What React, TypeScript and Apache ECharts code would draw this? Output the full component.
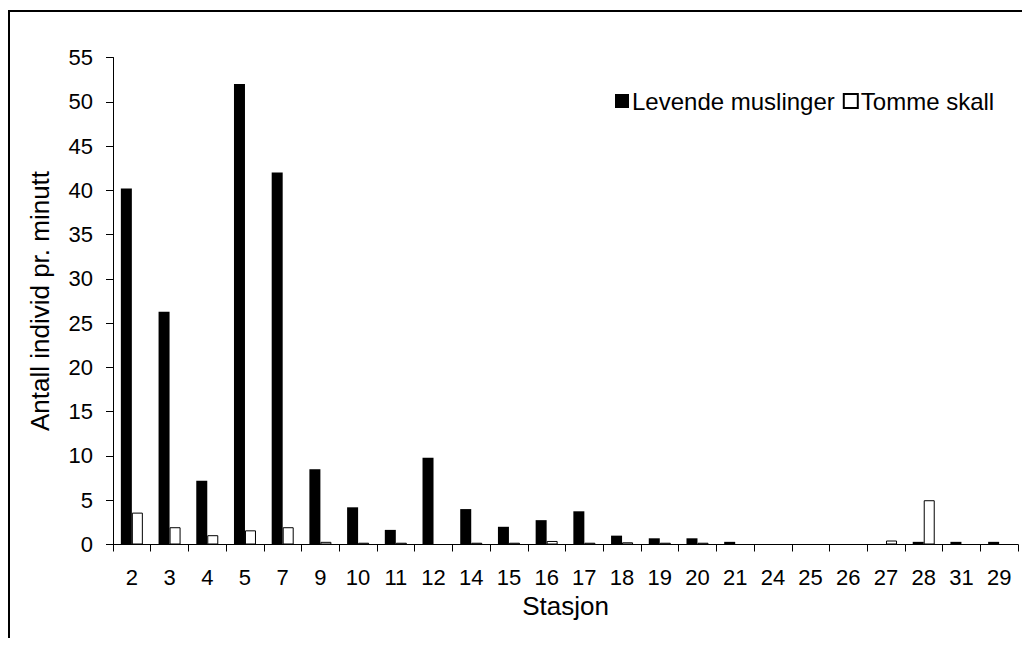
import React, { useEffect, useRef } from "react";
import * as echarts from "echarts";

const categories = ["2", "3", "4", "5", "7", "9", "10", "11", "12", "14", "15", "16", "17", "18", "19", "20", "21", "24", "25", "26", "27", "28", "31", "29"];
const levende = [40.2, 26.3, 7.2, 52, 42, 8.5, 4.2, 1.65, 9.8, 4.0, 2.0, 2.75, 3.75, 1.0, 0.7, 0.7, 0.3, 0, 0, 0, 0, 0.3, 0.3, 0.3];
const tomme = [3.6, 1.95, 1.05, 1.6, 1.95, 0.3, 0.2, 0.2, 0, 0.2, 0.2, 0.4, 0.2, 0.25, 0.2, 0.2, 0, 0, 0, 0, 0.45, 5.0, 0, 0];
const yTicks = { min: 0, max: 55, interval: 5 };

const FONT = "Liberation Sans";
const FS = 22;
const FS_LEGEND = 24;
const FS_NAME = 26;

export default function App() {
  const ref = useRef<HTMLDivElement>(null);
  useEffect(() => {
    if (!ref.current) return;
    const chart = echarts.init(ref.current, null, { renderer: "svg" });
    chart.setOption({
      animation: false,
      backgroundColor: "#fff",
      textStyle: { fontFamily: FONT, color: "#000" },
      graphic: [
        { type: "line", shape: { x1: 0, y1: 3, x2: 1030, y2: 3 }, style: { stroke: "#000", lineWidth: 2 } },
        { type: "line", shape: { x1: 1, y1: 2, x2: 1, y2: 646 }, style: { stroke: "#000", lineWidth: 2 } },
      ],
      legend: {
        top: 81,
        left: 607,
        padding: 0,
        itemWidth: 14,
        itemHeight: 14,
        itemGap: 8,
        textStyle: { fontFamily: FONT, fontSize: FS_LEGEND, color: "#000", padding: [0, 0, 0, -2] },
        data: [
          { name: "Levende muslinger", icon: "rect" },
          { name: "Tomme skall", icon: "rect" },
        ],
      },
      grid: { left: 105, right: 4, top: 49.5, bottom: 93.5 },
      xAxis: {
        type: "category",
        data: categories,
        name: "Stasjon",
        nameLocation: "middle",
        nameGap: 48,
        nameTextStyle: { fontFamily: FONT, fontSize: FS_NAME, color: "#000" },
        axisLine: { lineStyle: { color: "#000", width: 1 } },
        axisTick: { show: true, length: 7, lineStyle: { color: "#000" } },
        axisLabel: { fontFamily: FONT, fontSize: FS, color: "#000", margin: 22 },
      },
      yAxis: {
        type: "value",
        min: yTicks.min,
        max: yTicks.max,
        interval: yTicks.interval,
        name: "Antall individ pr. minutt",
        nameLocation: "middle",
        nameGap: 60,
        nameTextStyle: { fontFamily: FONT, fontSize: FS_NAME, color: "#000" },
        axisLine: { show: true, lineStyle: { color: "#000", width: 1 } },
        axisTick: { show: true, length: 7, lineStyle: { color: "#000" } },
        axisLabel: { fontFamily: FONT, fontSize: FS, color: "#000", margin: 20 },
        splitLine: { show: false },
      },
      series: [
        {
          name: "Levende muslinger",
          type: "bar",
          data: levende,
          barWidth: 11,
          barGap: "0%",
          itemStyle: { color: "#000", borderWidth: 0 },
        },
        {
          name: "Tomme skall",
          type: "bar",
          data: tomme,
          barWidth: 11,
          itemStyle: { color: "#fff", borderColor: "#000", borderWidth: 1 },
        },
      ],
    });
    return () => chart.dispose();
  }, []);
  return <div ref={ref} style={{ width: 1014, height: 630 }} />;
}
